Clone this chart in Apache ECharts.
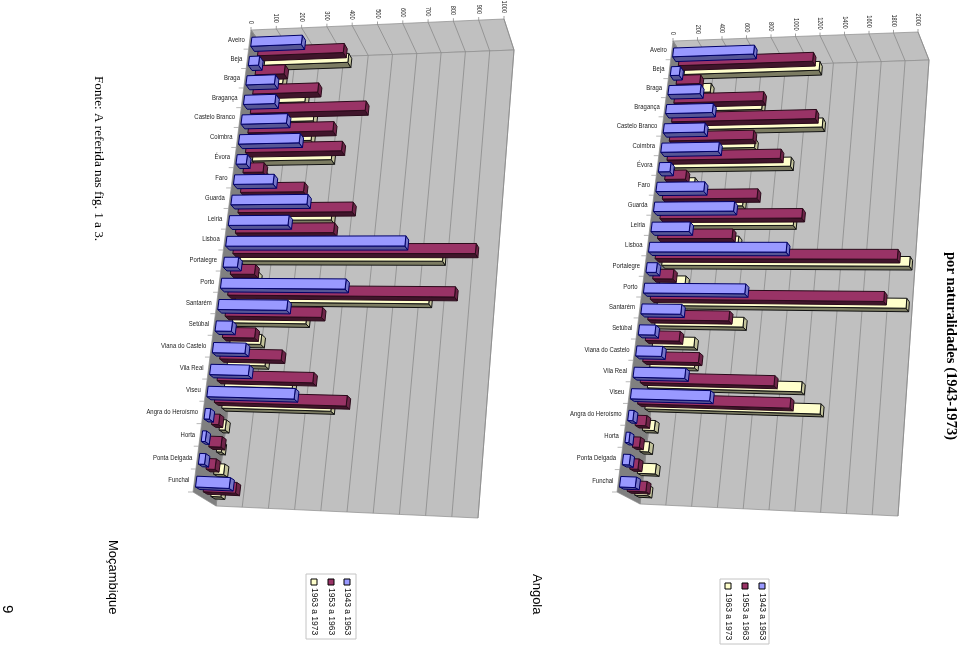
<!DOCTYPE html>
<html><head><meta charset="utf-8">
<style>html,body{margin:0;padding:0;background:#fff}#c{width:960px;height:646px}</style>
<script src="https://cdn.jsdelivr.net/npm/echarts@6/dist/echarts.min.js"></script>
</head><body><div id="c"></div>
<script>
const categories = ['Aveiro','Beja','Braga','Bragança','Castelo Branco','Coimbra','Évora','Faro','Guarda','Leiria','Lisboa','Portalegre','Porto','Santarém','Setúbal','Viana do Castelo','Vila Real','Viseu','Angra do Heroísmo','Horta','Ponta Delgada','Funchal'];
const periods = ['1943 a 1953','1953 a 1963','1963 a 1973'];
const angola1943 = [660,73,260,377,329,461,92,381,636,302,1086,80,794,311,128,200,399,610,39,29,53,119];
const angola1953 = [1105,193,727,1172,679,916,168,761,1136,594,1927,159,1845,637,265,435,1042,1182,82,53,62,143];
const angola1963 = [1120,234,675,1188,648,957,189,599,1025,594,1987,204,1984,701,329,352,1208,1371,92,67,138,100];
const moz1943 = [200,40,112,123,178,237,40,154,295,231,692,55,479,264,62,124,147,331,20,15,23,126];
const moz1953 = [344,116,259,457,337,380,79,248,448,384,946,94,880,373,124,236,367,504,27,46,34,122];
const moz1963 = [340,84,183,226,226,316,59,220,342,294,798,78,759,287,120,147,262,420,23,19,38,38];
const angolaTicks = [0,200,400,600,800,1000,1200,1400,1600,1800,2000];
const mozTicks = [0,100,200,300,400,500,600,700,800,900,1000];

const colors = [
  {front:'#9999ff', bottom:'#565695', end:'#7676c8', line:'#000066'},
  {front:'#993366', bottom:'#40152b', end:'#6e2549', line:'#2a0a1a'},
  {front:'#ffffcc', bottom:'#7c7c62', end:'#c4c49c', line:'#111111'}
];
// Perspective frame of each plot: front (F) and back (B) corners [value end, category end]
const frames = [
  {F00:[673,41],F10:[918,32],F01:[617,492],F11:[881,503],B00:[690,68],B10:[929,60],B01:[640,504],B11:[898,516]},
  {F00:[251,30],F10:[504,19],F01:[193,492],F11:[460,504],B00:[271,59],B10:[514,50],B01:[216,506],B11:[478,518]}
];
const Q = 1.1;
function warp(fr,u,c,d){
  const t = c/(c+(1-c)*Q);
  const out=[];
  for(let k=0;k<2;k++){
    const f=(1-t)*((1-u)*fr.F00[k]+u*fr.F10[k])+t*((1-u)*fr.F01[k]+u*fr.F11[k]);
    const b=(1-t)*((1-u)*fr.B00[k]+u*fr.B10[k])+t*((1-u)*fr.B01[k]+u*fr.B11[k]);
    out.push(f*(1-d)+b*d);
  }
  return out;
}
function projector(params,api,fr){
  const cs=params.coordSys;
  return function(v,cat,catOffset,d){
    const p=api.coord([v,cat]);
    const band=api.size([0,1])[1];
    return warp(fr,(p[0]-cs.x)/cs.width,(p[1]+catOffset*band-cs.y)/cs.height,d);
  };
}
const BAR_W=0.235, DEPTH=[1/6,1/2,5/6], DEPTH_W=0.09;
function barSeries(name,data,sIdx,chart){
  return {
    type:'custom',name:name,xAxisIndex:chart,yAxisIndex:chart,silent:true,animation:false,
    data:data.map((v,i)=>[v,i]),
    renderItem(params,api){
      const P=projector(params,api,frames[chart]);
      const v=api.value(0), i=api.value(1), col=colors[sIdx];
      const d0=DEPTH[sIdx]-DEPTH_W, d1=DEPTH[sIdx]+DEPTH_W;
      const base=(i*3+(2-sIdx))*5+10;
      const poly=(pts,fill,z)=>({type:'polygon',z2:base+z,shape:{points:pts},style:{fill:fill,stroke:col.line,lineWidth:1}});
      return {type:'group',children:[
        poly([P(0,i,BAR_W,d0),P(v,i,BAR_W,d0),P(v,i,BAR_W,d1),P(0,i,BAR_W,d1)],col.bottom,0),
        poly([P(v,i,-BAR_W,d0),P(v,i,BAR_W,d0),P(v,i,BAR_W,d1),P(v,i,-BAR_W,d1)],col.end,1),
        poly([P(0,i,-BAR_W,d0),P(v,i,-BAR_W,d0),P(v,i,BAR_W,d0),P(0,i,BAR_W,d0)],col.front,2)
      ]};
    }
  };
}
function frameSeries(ticks,chart){
  return {
    type:'custom',xAxisIndex:chart,yAxisIndex:chart,silent:true,animation:false,
    data:ticks.map(t=>[t,0]),
    renderItem(params,api){
      const fr=frames[chart], v=api.value(0);
      const cs=params.coordSys;
      const u=(api.coord([v,0])[0]-cs.x)/cs.width;
      const children=[];
      if(params.dataIndex===0){
        const w=(a,b,c)=>warp(fr,a,b,c);
        const panel=(pts,fill)=>({type:'polygon',z2:-20,shape:{points:pts},style:{fill:fill,stroke:'#8c8c8c',lineWidth:0.7}});
        children.push(panel([w(0,0,0),w(1,0,0),w(1,0,1),w(0,0,1)],'#c0c0c0'));
        children.push(panel([w(0,0,1),w(1,0,1),w(1,1,1),w(0,1,1)],'#c0c0c0'));
        children.push(panel([w(0,0,0),w(0,0,1),w(0,1,1),w(0,1,0)],'#808080'));
      }
      const a=warp(fr,u,0,0), b=warp(fr,u,0,1), c=warp(fr,u,1,1);
      const line=pts=>({type:'polyline',z2:-10,shape:{points:pts},style:{fill:null,stroke:'#8a8a8a',lineWidth:0.8}});
      children.push(line([a,b,c]));
      children.push(line([a,[a[0],a[1]-3]]));
      children.push({type:'text',z2:-5,x:a[0],y:a[1]-6,rotation:-Math.PI/2,scaleX:0.8,
        style:{text:String(v),align:'right',verticalAlign:'middle',fill:'#222',font:'7px "Liberation Sans"'}});
      return {type:'group',children};
    }
  };
}
function categorySeries(chart){
  return {
    type:'custom',xAxisIndex:chart,yAxisIndex:chart,silent:true,animation:false,
    data:categories.map((n,i)=>[0,i]),
    renderItem(params,api){
      const P=projector(params,api,frames[chart]);
      const i=api.value(1);
      const a=P(0,i,0,0), t=P(0,i,0.5,0);
      return {type:'group',children:[
        {type:'text',z2:-5,x:a[0]-5,y:a[1],scaleX:0.85,style:{text:categories[i],align:'right',verticalAlign:'middle',fill:'#222',font:'7px "Liberation Sans"'}},
        {type:'polyline',z2:-5,shape:{points:[t,[t[0]-5,t[1]]]},style:{fill:null,stroke:'#999',lineWidth:0.7}}
      ]};
    }
  };
}
function rotText(text,x,y,font,fill){
  return {type:'text',x:x,y:y,rotation:-Math.PI/2,style:{text:text,align:'left',verticalAlign:'middle',font:font,fill:fill||'#111'}};
}
function legend(box,swatchY,textY,xs){
  const els=[{type:'rect',shape:{x:box[0],y:box[1],width:box[2],height:box[3]},style:{fill:'#fff',stroke:'#c4c4c4',lineWidth:1}}];
  periods.forEach((p,i)=>{
    els.push({type:'rect',shape:{x:xs[i]-3,y:swatchY-3,width:6,height:6},style:{fill:colors[i].front,stroke:'#000',lineWidth:1}});
    els.push(rotText(p,xs[i],textY,'8.5px "Liberation Sans"'));
  });
  return els;
}
const hiddenX=(max,idx)=>({type:'value',show:false,min:0,max:max,gridIndex:idx,position:'top'});
const hiddenY=(idx)=>({type:'category',show:false,inverse:true,data:categories,gridIndex:idx});
const chart=echarts.init(document.getElementById('c'),null,{renderer:'canvas'});
chart.setOption({
  animation:false,
  backgroundColor:'#fff',
  grid:[{left:640,top:40,width:260,height:460},{left:200,top:40,width:260,height:460}],
  xAxis:[hiddenX(2000,0),hiddenX(1000,1)],
  yAxis:[hiddenY(0),hiddenY(1)],
  series:[
    frameSeries(angolaTicks,0),categorySeries(0),
    barSeries(periods[0],angola1943,0,0),barSeries(periods[1],angola1953,1,0),barSeries(periods[2],angola1963,2,0),
    frameSeries(mozTicks,1),categorySeries(1),
    barSeries(periods[0],moz1943,0,1),barSeries(periods[1],moz1953,1,1),barSeries(periods[2],moz1963,2,1)
  ],
  graphic:{elements:[
    ...legend([720,579,49,65],586,593,[762,745,728]),
    ...legend([306,574,50,65],582,588,[347,331,314]),
    rotText('por naturalidades (1943-1973)',951,252,'bold 14.6px "Liberation Serif"','#000'),
    rotText('Fonte: A referida nas fig. 1 a 3.',98,76,'13.2px "Liberation Serif"','#000'),
    rotText('Moçambique',113,540,'13px "Liberation Sans"','#000'),
    rotText('Angola',537,574,'13px "Liberation Sans"','#000'),
    rotText('9',7,605,'15px "Liberation Sans"','#000')
  ]}
});
</script></body></html>
